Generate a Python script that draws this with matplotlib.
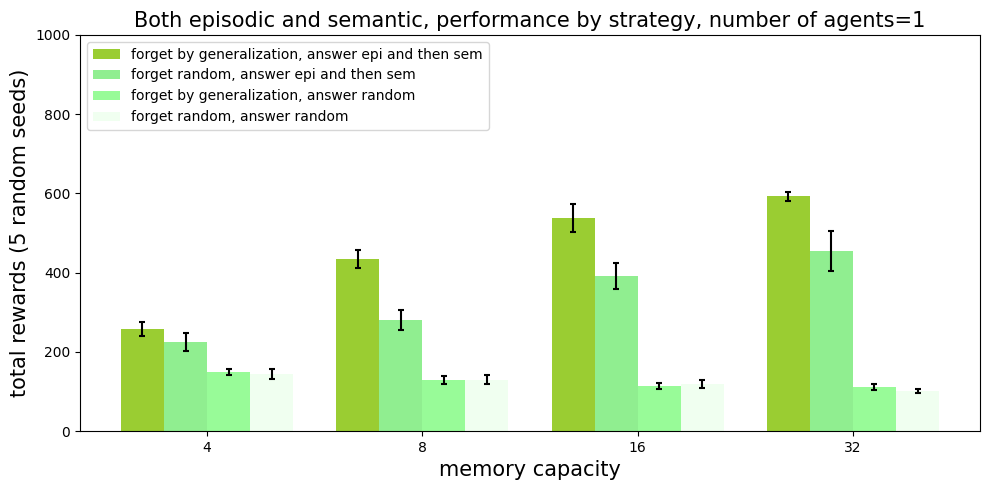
import numpy as np
import matplotlib
matplotlib.use('Agg')
import matplotlib.pyplot as plt

capacities = ['4', '8', '16', '32']
labels = ['forget by generalization, answer epi and then sem',
          'forget random, answer epi and then sem',
          'forget by generalization, answer random',
          'forget random, answer random']
colors = ['yellowgreen', 'lightgreen', 'palegreen', 'honeydew']

# mean rewards per strategy
gen_episem = [257, 434, 538, 593]
rand_episem = [225, 280, 391, 455]
gen_rand = [149, 129, 114, 111]
rand_rand = [144, 130, 119, 101]

# std across seeds
gen_episem_std = [17, 22, 36, 11]
rand_episem_std = [23, 26, 32, 51]
gen_rand_std = [7, 10, 8, 8]
rand_rand_std = [12, 11, 10, 4]

means = [gen_episem, rand_episem, gen_rand, rand_rand]
stds = [gen_episem_std, rand_episem_std, gen_rand_std, rand_rand_std]

fig, ax = plt.subplots(figsize=(9.89, 4.9), dpi=100)
x = np.arange(len(capacities))
width = 0.2
for i in range(4):
    ax.bar(x + (i - 1.5) * width, means[i], width, yerr=stds[i], capsize=2,
           color=colors[i], label=labels[i],
           error_kw={'elinewidth': 1.5, 'capthick': 1.5})

ax.set_xticks(x)
ax.set_xticklabels(capacities)
ax.set_ylim(0, 1000)
ax.set_xlabel('memory capacity', fontsize=15)
ax.set_ylabel('total rewards (5 random seeds)', fontsize=15)
ax.set_title('Both episodic and semantic, performance by strategy, number of agents=1', fontsize=15)
ax.legend(loc='upper left')
fig.subplots_adjust(left=80 / 989, right=980 / 989, top=1 - 35 / 490, bottom=1 - 431 / 490)
fig.savefig('out.png')
